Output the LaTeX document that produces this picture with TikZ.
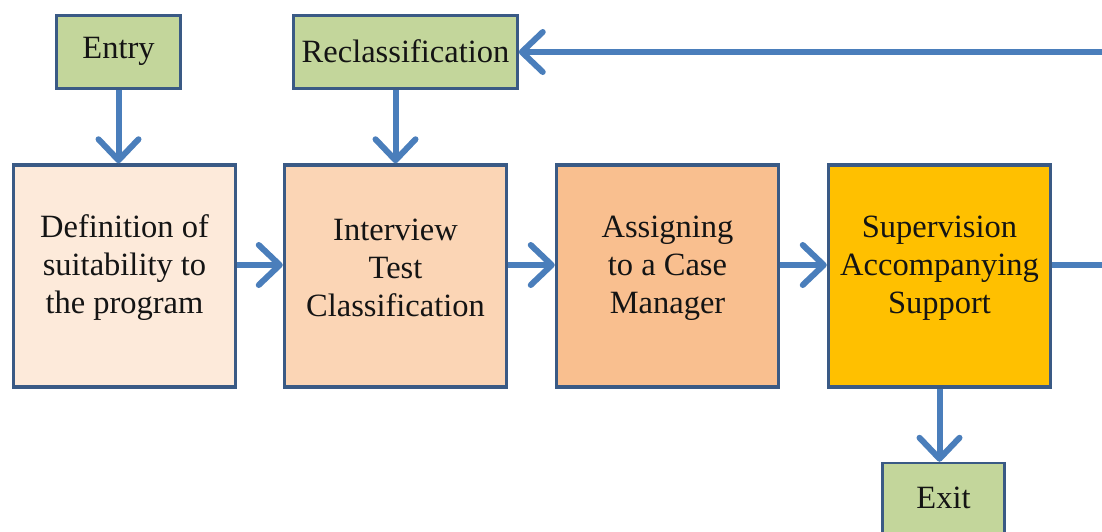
\documentclass[tikz,border=0pt]{standalone}
\usepackage{fontspec}
\setmainfont{Liberation Serif}
\usetikzlibrary{arrows.meta}
\definecolor{bordc}{HTML}{3A5A85}
\definecolor{arrc}{HTML}{4A7EBB}
\definecolor{greenc}{HTML}{C3D69B}
\definecolor{defc}{HTML}{FDEADA}
\definecolor{intc}{HTML}{FBD5B5}
\definecolor{asgc}{HTML}{F9BF8F}
\definecolor{supc}{HTML}{FFC000}
\definecolor{txtc}{HTML}{141414}
\tikzset{
  bigbox/.style={draw=bordc, line width=3.5pt, minimum width=222pt, minimum height=222pt, inner sep=0pt},
  smallbox/.style={draw=bordc, fill=greenc, line width=2.5pt, minimum height=73pt, inner sep=0pt},
  lbl/.style={text=txtc, font=\fontsize{32.5}{38}\selectfont, align=center, inner sep=0pt},
  flow/.style={draw=arrc, line width=6pt, -{Straight Barb[length=21pt,width=40pt,line width=6pt,round]}},
}
\begin{document}
\begin{tikzpicture}[x=1pt,y=-1pt]
\useasboundingbox (0,0) rectangle (1102,531);
\clip (0,0) rectangle (1102,531);
% main boxes (centres)
\node[bigbox, fill=defc] (def) at (124.5,276) {};
\node[bigbox, fill=intc] (int) at (395.5,276) {};
\node[bigbox, fill=asgc] (asg) at (667.5,276) {};
\node[bigbox, fill=supc] (sup) at (939.5,276) {};
\node[lbl] (deft) at (124.5,268) {Definition of\\suitability to\\the program};
\node[lbl] (intt) at (395.5,268) {Interview\\Test\\Classification};
\node[lbl] (asgt) at (667.5,268) {Assigning\\to a Case\\Manager};
\node[lbl] (supt) at (939.5,268) {Supervision\\Accompanying\\Support};
% small boxes
\node[smallbox, minimum width=124pt] (entry) at (118.5,52) {};
\node[smallbox, minimum width=224pt] (recl) at (405.5,52) {};
\node[smallbox, minimum width=122pt, minimum height=90pt] (exit) at (943.5,508) {};
\node[lbl] (entryt) at (118.5,51) {Entry};
\node[lbl] (reclt) at (405.5,51) {Reclassification};
\node[lbl] (exitt) at (943.5,498) {Exit};
% connectors
\coordinate (c1) at (1125,265);
\coordinate (c2) at (1125,52);
\draw[flow] (entry.south) -- (entry.south |- def.north);
\draw[flow] (int.north |- recl.south) -- (int.north);
\draw[flow] ([yshift=11pt]def.east) -- ([yshift=11pt]int.west);
\draw[flow] ([yshift=11pt]int.east) -- ([yshift=11pt]asg.west);
\draw[flow] ([yshift=11pt]asg.east) -- ([yshift=11pt]sup.west);
\draw[flow] (sup.south) -- (sup.south |- exit.north);
\draw[flow] ([yshift=11pt]sup.east) -- (c1) -- (c2) -- (recl.east);
\end{tikzpicture}
\end{document}
